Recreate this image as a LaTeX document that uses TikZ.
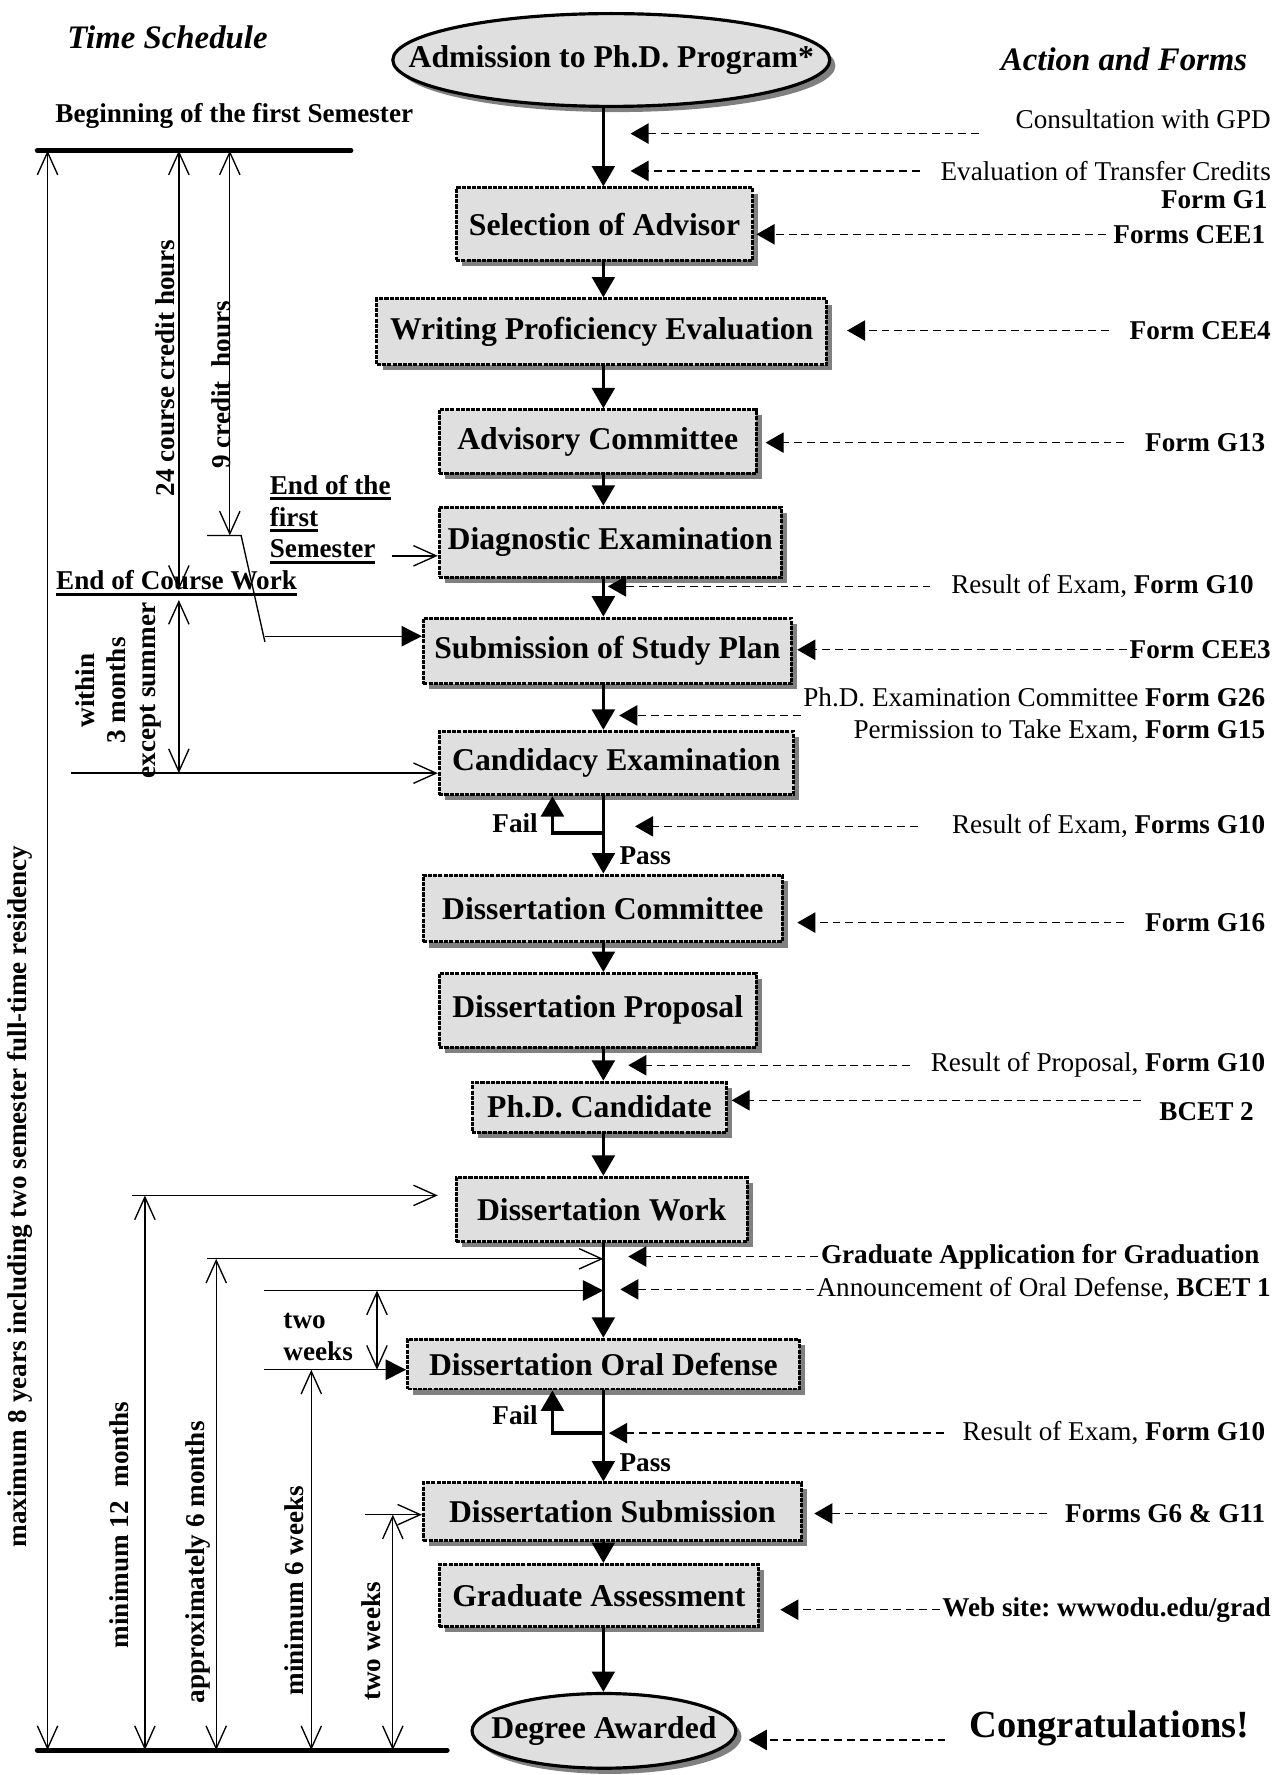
\documentclass[tikz,border=0pt]{standalone}
\usepackage{fontspec}
\setmainfont{Liberation Serif}
\usetikzlibrary{arrows.meta,shapes.geometric,shadows,calc}
\frenchspacing

\newcommand{\ulbar}[1]{\setbox0\hbox{#1}\rlap{\rule[-2.6pt]{\wd0}{1.3pt}}\box0}

\tikzset{
  stepbox/.style={rectangle, draw=black, line width=1.3pt,
    dash pattern=on 1.8pt off 0.5pt, fill=gray!25, inner sep=0pt,
    font=\fontsize{14}{16}\selectfont\bfseries,
    drop shadow={shadow xshift=2.5pt, shadow yshift=-2.5pt, fill=black!50, opacity=1}},
  endbox/.style={ellipse, draw=black, line width=1.4pt, fill=gray!25, inner sep=0pt,
    font=\fontsize{14}{16}\selectfont\bfseries,
    drop shadow={shadow xshift=2.5pt, shadow yshift=-2.5pt, fill=black!50, opacity=1}},
  flow/.style={line width=1.5pt, -{Triangle[length=9pt,width=10pt]}},
  formarrow/.style={line width=0.6pt, dash pattern=on 3.5pt off 2.2pt,
    -{Triangle[length=8pt,width=9pt]}},
  span/.style={line width=0.6pt,
    {Straight Barb[length=10pt,width=9pt]}-{Straight Barb[length=10pt,width=9pt]}},
  toward/.style={line width=0.6pt, -{Straight Barb[length=10pt,width=9pt]}},
  push/.style={line width=0.6pt, -{Triangle[length=9pt,width=9pt]}},
  bar/.style={line width=2.2pt, line cap=round},
  form/.style={font=\fontsize{12}{14}\selectfont, inner sep=1pt},
  formb/.style={form, font=\fontsize{12}{14}\selectfont\bfseries},
  side/.style={font=\fontsize{12}{13.5}\selectfont\bfseries, rotate=90, inner sep=1pt, align=center},
  head/.style={font=\fontsize{14.5}{16}\selectfont\bfseries\itshape},
}

\begin{document}
\begin{tikzpicture}[x=0.5pt, y=-0.5pt]
  \path[fill=white, use as bounding box] (0,0) rectangle (1129,1568);
  \coordinate (axis) at (533,0);

  % headings
  \node[head] (sched) at (148,33) {Time Schedule};
  \node[head] (actions) at (993,52) {Action and Forms};

  % steps
  \node[endbox, minimum width=193pt, minimum height=41pt] (adm) at (540,53) {\makebox[0pt]{Admission to Ph.D. Program*}};
  \node[stepbox, minimum width=131pt, minimum height=32pt] (sel) at (534,198) {Selection of Advisor};
  \node[stepbox, minimum width=198.5pt, minimum height=29pt] (wpe) at (531.5,293) {Writing Proficiency Evaluation};
  \node[stepbox, minimum width=140pt, minimum height=28pt] (adv) at (528,390) {Advisory Committee};
  \node[stepbox, minimum width=151pt, minimum height=31pt] (diag) at (539,479) {Diagnostic Examination};
  \node[stepbox, minimum width=162.5pt, minimum height=29pt] (plan) at (536.5,575) {Submission of Study Plan};
  \node[stepbox, minimum width=156.5pt, minimum height=28pt] (cand) at (544.5,674) {Candidacy Examination};
  \node[stepbox, minimum width=158.5pt, minimum height=29.5pt] (dcom) at (532.5,802.5) {Dissertation\ Committee};
  \node[stepbox, minimum width=140pt, minimum height=32.5pt] (prop) at (528,892.5) {Dissertation Proposal};
  \node[stepbox, minimum width=112.5pt, minimum height=22pt] (phd) at (529.5,978) {Ph.D. Candidate};
  \node[stepbox, minimum width=128.5pt, minimum height=28.5pt] (work) at (531.5,1068.5) {Dissertation Work};
  \node[stepbox, minimum width=173pt, minimum height=22pt] (oral) at (533,1205) {Dissertation Oral Defense};
  \node[stepbox, minimum width=167pt, minimum height=25.5pt] (subm) at (541,1335.5) {Dissertation Submission};
  \node[stepbox, minimum width=141pt, minimum height=27.5pt] (gass) at (529,1409.5) {Graduate Assessment};
  \node[endbox, minimum width=116.5pt, minimum height=33pt] (deg) at (533.5,1529) {\makebox[0pt]{Degree Awarded}};

  % main flow
  \draw[flow] (adm.south -| axis) -- (sel.north -| axis);
  \draw[flow] (sel.south -| axis) -- (wpe.north -| axis);
  \draw[flow] (wpe.south -| axis) -- (adv.north -| axis);
  \draw[flow] (adv.south -| axis) -- (diag.north -| axis);
  \draw[flow] (diag.south -| axis) -- (plan.north -| axis);
  \draw[flow] (plan.south -| axis) -- (cand.north -| axis);
  \draw[flow] (cand.south -| axis) -- (dcom.north -| axis);
  \draw[flow] (dcom.south -| axis) -- (prop.north -| axis);
  \draw[flow] (prop.south -| axis) -- (phd.north -| axis);
  \draw[flow] (phd.south -| axis) -- (work.north -| axis);
  \draw[flow] (work.south -| axis) -- (oral.north -| axis);
  \draw[flow] (oral.south -| axis) -- (subm.north -| axis);
  \draw[flow] (subm.south -| axis) -- (gass.north -| axis);
  \draw[flow] (gass.south -| axis) -- (deg.north -| axis);

  % fail / pass loops
  \coordinate (forkA) at (533,736);
  \coordinate (failA) at (488,736);
  \draw[flow] (forkA) -- (failA) -- (failA |- cand.south);
  \node[formb] (failAtxt) at (455,727) {Fail};
  \node[formb] (passAtxt) at (570,756) {Pass};
  \coordinate (forkB) at (533,1266);
  \coordinate (failB) at (488,1266);
  \draw[flow] (forkB) -- (failB) -- (failB |- oral.south);
  \node[formb] (failBtxt) at (455,1250) {Fail};
  \node[formb] (passBtxt) at (570,1292) {Pass};

  % actions and forms
  \node[form, anchor=east] (gpd) at (1125,105) {Consultation with GPD};
  \draw[formarrow] ([xshift=-15pt,yshift=-6.5pt]gpd.west) -- ($(gpd.west -| axis)+(24,13)$);
  \node[form, anchor=east] (trans) at (1125,151) {Evaluation of Transfer Credits};
  \draw[formarrow] ([xshift=-8pt]trans.west) -- ($(trans.west -| axis)+(24,0)$);
  \node[formb, anchor=east] (gone) at (1122,176) {Form G1};
  \node[formb, anchor=east] (ceeone) at (1120,207) {Forms CEE1};
  \draw[formarrow] ([xshift=-2pt]ceeone.west) -- ($(ceeone.west -| sel.east)+(2,0)$);
  \node[formb, anchor=east] (ceefour) at (1125,292) {Form CEE4};
  \draw[formarrow] ([xshift=-8pt]ceefour.west) -- ($(ceefour.west -| wpe.east)+(17,0)$);
  \node[formb, anchor=east] (gthirteen) at (1120,391) {Form G13};
  \draw[formarrow] ([xshift=-8pt]gthirteen.west) -- ($(gthirteen.west -| adv.east)+(7,0)$);
  \node[form, anchor=east] (resA) at (1110,518) {Result of Exam, \textbf{Form G10}};
  \draw[formarrow] ([xshift=-8pt]resA.west) -- ($(resA.west -| axis)+(4,0)$);
  \node[formb, anchor=east] (ceethree) at (1125,574) {Form CEE3};
  \draw[formarrow] (ceethree.west) -- ($(ceethree.west -| plan.east)+(4,0)$);
  \node[form, anchor=east, align=right] (permit) at (1120,632)
    {Ph.D. Examination Committee \textbf{Form G26}\\Permission to Take Exam, \textbf{Form G15}};
  \draw[formarrow] (permit.west) -- ($(permit.west -| axis)+(14,0)$);
  \node[form, anchor=east] (resB) at (1120,730) {Result of Exam, \textbf{Forms G10}};
  \draw[formarrow] ([xshift=-14pt]resB.west) -- ($(resB.west -| axis)+(28,0)$);
  \node[formb, anchor=east] (gsixteen) at (1120,815) {Form G16};
  \draw[formarrow] ([xshift=-8pt]gsixteen.west) -- ($(gsixteen.west -| dcom.east)+(12,0)$);
  \node[form, anchor=east] (resC) at (1120,941) {Result of Proposal, \textbf{Form G10}};
  \draw[formarrow] ([xshift=-8pt]resC.west) -- ($(resC.west -| axis)+(22,0)$);
  \node[formb, anchor=east] (bcettwo) at (1110,982) {BCET 2};
  \draw[formarrow] ([xshift=-7pt,yshift=5pt]bcettwo.west) -- ($(bcettwo.west -| phd.east)+(3,-10)$);
  \node[formb, anchor=east] (apply) at (1115,1110) {Graduate Application for Graduation};
  \draw[formarrow] (apply.west) -- ($(apply.west -| axis)+(22,0)$);
  \node[form, anchor=east] (announce) at (1125,1139) {Announcement of Oral Defense, \textbf{BCET 1}};
  \draw[formarrow] (announce.west) -- ($(announce.west -| axis)+(15,0)$);
  \node[form, anchor=east] (resD) at (1120,1266) {Result of Exam, \textbf{Form G10}};
  \draw[formarrow] ([xshift=-7pt]resD.west) -- ($(resD.west -| axis)+(5,0)$);
  \node[formb, anchor=east] (gsix) at (1120,1337) {Forms G6 \& G11};
  \draw[formarrow] ([xshift=-7pt]gsix.west) -- ($(gsix.west -| subm.east)+(10,0)$);
  \node[formb, anchor=east] (web) at (1125,1422) {Web site: wwwodu.edu/grad};
  \draw[formarrow] (web.west) -- ($(web.west -| gass.east)+(18,0)$);
  \node[font=\fontsize{17}{19}\selectfont\bfseries] (congrats) at (980,1527) {Congratulations!};
  \draw[formarrow] ([xshift=-7pt,yshift=-5pt]congrats.west) -- ($(congrats.west -| deg.east)+(10,10)$);

  % time schedule
  \node[formb] (begin) at (207,102) {Beginning of the first Semester};
  \coordinate (topL) at (33,133);
  \coordinate (topR) at (310,133);
  \coordinate (botL) at (33,1546);
  \coordinate (botR) at (395,1546);
  \draw[bar] (topL) -- (topR);
  \draw[bar] (botL) -- (botR);

  \draw[span] (42,133) -- (42,1546);
  \node[side] (maxyears) at (18,1057) {maximum 8 years including two semester full-time residency};
  \draw[span] (158,133) -- (158,521);
  \node[side] (credits) at (146,325) {24 course credit hours};
  \draw[span] (203,133) -- (203,473);
  \node[side] (ninecr) at (195,340) {9 credit~ hours};
  \draw[line width=0.6pt] (183,473) -- (213,473) -- (234,567);
  \coordinate (sp) at (234,562);
  \draw[push] (sp) -- (sp -| plan.west);

  \node[formb, align=left, anchor=west] (firstsem) at (236,459)
    {\ulbar{End of the}\\\ulbar{first}\\\ulbar{Semester}};
  \coordinate (efs) at (346,491);
  \draw[toward] (efs) -- (efs -| diag.west);

  \node[formb] (coursework) at (156,515) {\ulbar{End of Course Work}};
  \draw[span] (158,530) -- (158,683);
  \node[side] (within) at (105,610) {within\\3 months\\except summer};
  \coordinate (cw) at (63,683);
  \draw[toward] (cw) -- (cw -| cand.west);

  \coordinate (w12) at (117,1056);
  \draw[toward] (w12) -- ($(w12 -| work.west)+(-15,0)$);
  \draw[span] (128,1056) -- (128,1546);
  \node[side] (twelve) at (105,1347) {minimum 12~ months};

  \coordinate (a6) at (183,1112);
  \draw[toward] (a6) -- (a6 -| axis);
  \draw[span] (191,1112) -- (191,1546);
  \node[side] (sixmonths) at (175,1380) {approximately 6 months};

  \coordinate (tw) at (233,1140);
  \draw[push] (tw) -- (tw -| axis);
  \draw[span] (333,1140) -- (333,1210);
  \node[formb, align=left, anchor=west] (twoA) at (248,1181) {two\\weeks};
  \coordinate (od) at (233,1210);
  \draw[push] (od) -- (od -| oral.west);
  \draw[span] (275,1210) -- (275,1546);
  \node[side] (sixweeks) at (260,1405) {minimum 6 weeks};

  \coordinate (ds) at (322,1338);
  \draw[toward] (ds) -- (ds -| subm.west);
  \draw[span] (347,1338) -- (347,1546);
  \node[side] (twoB) at (328,1450) {two weeks};
\end{tikzpicture}
\end{document}
